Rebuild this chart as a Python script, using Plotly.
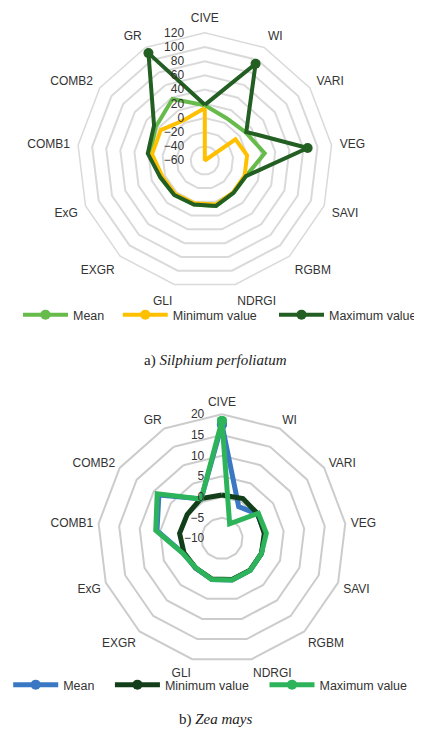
import plotly.graph_objects as go

categories = ["CIVE", "WI", "VARI", "VEG", "SAVI", "RGBM", "NDRGI", "GLI",
              "EXGR", "ExG", "COMB1", "COMB2", "GR"]

# a) Silphium perfoliatum
silphium_mean = [18, 7, 10, 25, 2, 1, 6, 4, 5, 7, 18, 24, 38]
silphium_min = [14, -60, -7.5, 0, 0, 0, 4, 2, 3, 4, 15, 15.5, 4]
silphium_max = [18.5, 94, 11, 86, 2, 1, 6, 4, 5, 7, 21, 27, 111]
silphium_ticks = [-60, -40, -20, 0, 20, 40, 60, 80, 100, 120]

# b) Zea mays
zea_mean = [17.5, -1.3, 0.4, 0.5, 0.2, 0.3, 0.3, 0.2, -0.4, 0.0, 5.8, 8.5, 0.8]
zea_min = [0.5, 0.9, 0.5, 0.3, 0.2, 0.2, 0.2, 0.1, -0.5, -0.2, 0.3, 0.2, 0.9]
zea_max = [18.4, -6, 0.7, 0.8, 0.2, 0.3, 0.3, 0.2, -0.5, 0.1, 6.1, 9, 0.8]
zea_ticks = [-10, -5, 0, 5, 10, 15, 20]

series_names = ["Mean", "Minimum value", "Maximum value"]

# the page body keeps its default 8px margin, so the figure is 8px smaller
OFF = 8
W, H = 422 - OFF, 740 - OFF
FONT = "Liberation Sans, Arial, sans-serif"


def closed(v):
    return list(v) + [v[0]]


fig = go.Figure()

a_colors = ["#66bb4a", "#ffc000", "#235e23"]
b_colors = ["#3a78c4", "#123f19", "#2db45a"]

for i, (vals, col) in enumerate(zip([silphium_mean, silphium_min, silphium_max], a_colors)):
    fig.add_trace(go.Scatterpolar(
        r=closed(vals), theta=closed(categories), mode="lines+markers",
        line=dict(color=col, width=4), marker=dict(color=col, size=10),
        name=series_names[i], subplot="polar", showlegend=True,
        legend="legend" if i == 0 else f"legend{i+1}",
    ))

for i, (vals, col) in enumerate(zip([zea_mean, zea_min, zea_max], b_colors)):
    fig.add_trace(go.Scatterpolar(
        r=closed(vals), theta=closed(categories), mode="lines+markers",
        line=dict(color=col, width=5), marker=dict(color=col, size=10),
        name=series_names[i], subplot="polar2", showlegend=True,
        legend=f"legend{i+4}",
    ))


def px_dom(cx, cy, R):
    cx -= OFF
    cy -= OFF
    return dict(x=[(cx - R) / W, (cx + R) / W], y=[(H - cy - R) / H, (H - cy + R) / H])


def polar_cfg(dom, ticks, gridcol, gw, alen, rlen):
    return dict(
        domain=dom,
        gridshape="linear",
        bgcolor="rgba(0,0,0,0)",
        angularaxis=dict(rotation=90, direction="clockwise", showgrid=False,
                         showline=True, linecolor=gridcol, linewidth=gw,
                         ticks="outside", ticklen=alen, tickcolor="rgba(0,0,0,0)",
                         tickfont=dict(family=FONT, size=12, color="#333333")),
        radialaxis=dict(range=[ticks[0], ticks[-1]], tickvals=ticks, angle=90,
                        tickangle=90, showline=False, gridcolor=gridcol, gridwidth=gw,
                        ticks="outside", ticklen=rlen, tickcolor="rgba(0,0,0,0)",
                        side="counterclockwise",
                        tickfont=dict(family=FONT, size=12, color="#333333")),
    )


fig.update_layout(
    width=W, height=H, margin=dict(l=0, r=0, t=0, b=0),
    paper_bgcolor="white", plot_bgcolor="white", showlegend=True,
    polar=polar_cfg(px_dom(200, 160.5, 130.5), silphium_ticks, "#dadada", 1.5, 5, 16),
    polar2=polar_cfg(px_dom(217.5, 538.5, 127), zea_ticks, "#cccccc", 2, 2, 13),
    font=dict(family=FONT, size=12, color="#333333"),
)

# legend line starts (page px) and rows
leg_pos = [(18, 315), (120, 315), (280, 315), (8, 685), (112, 685), (270, 685)]
for i, (lx, ly) in enumerate(leg_pos):
    key = "legend" if i == 0 else f"legend{i+1}"
    fig.update_layout(**{key: dict(
        x=(lx - 17) / W, y=1 - (ly - OFF) / H, xanchor="left", yanchor="middle",
        orientation="h", bgcolor="rgba(0,0,0,0)", borderwidth=0,
        itemwidth=45, font=dict(family=FONT, size=12.5, color="#333333"),
        tracegroupgap=0, visible=True,
    )})

fig.add_annotation(x=(211 - OFF) / W, y=1 - (360 - OFF) / H, xref="paper", yref="paper",
                   showarrow=False, text="a) <i>Silphium perfoliatum</i>",
                   font=dict(family="Liberation Serif, Times New Roman, serif", size=15, color="#222222"))
fig.add_annotation(x=(211 - OFF) / W, y=1 - (730 - OFF) / H, xref="paper", yref="paper",
                   showarrow=False, text="b) <i>Zea mays</i>",
                   font=dict(family="Liberation Serif, Times New Roman, serif", size=15, color="#222222"))

fig.write_html("out.html")
